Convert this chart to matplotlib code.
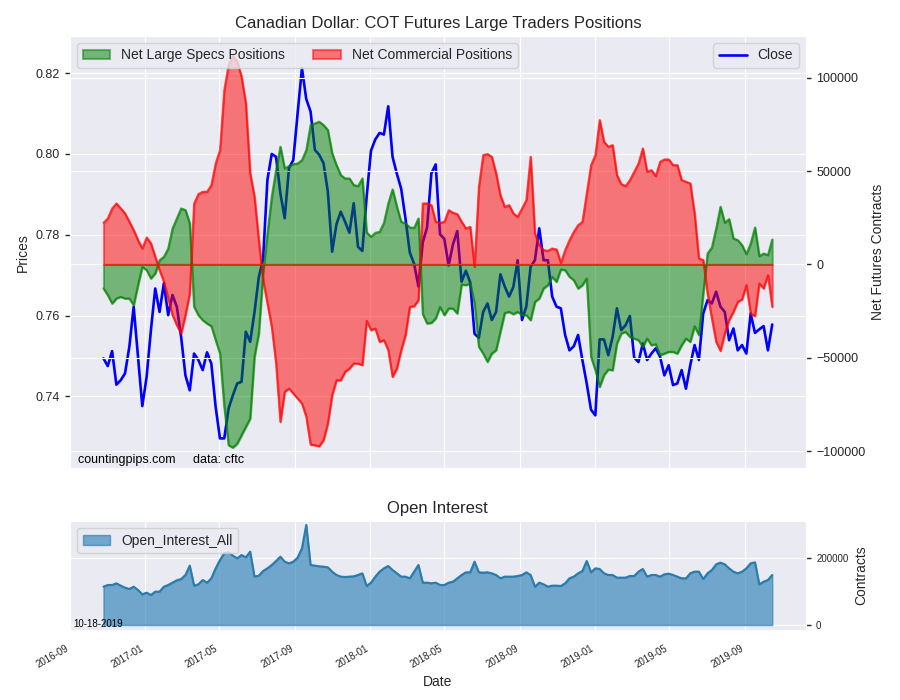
import numpy as np
import pandas as pd
import matplotlib
matplotlib.use("agg")
import matplotlib.pyplot as plt
import matplotlib.dates as mdates
import seaborn as sns

# weekly COT report dates (Tuesdays)
dates = pd.date_range("2016-10-25", periods=156, freq="7D")

close = [
  0.7494, 0.7475, 0.7512, 0.7429, 0.7440, 0.7457, 0.7523, 0.7622, 0.7498, 0.7376,
  0.7448, 0.7564, 0.7667, 0.7609, 0.7680, 0.7601, 0.7651, 0.7622, 0.7547, 0.7452,
  0.7415, 0.7506, 0.7490, 0.7465, 0.7509, 0.7481, 0.7374, 0.7296, 0.7296, 0.7370,
  0.7403, 0.7432, 0.7436, 0.7560, 0.7535, 0.7608, 0.7695, 0.7740, 0.7936, 0.8000,
  0.7993, 0.7903, 0.7841, 0.7965, 0.7985, 0.8101, 0.8212, 0.8136, 0.8105, 0.8010,
  0.7998, 0.7977, 0.7907, 0.7758, 0.7826, 0.7857, 0.7832, 0.7805, 0.7878, 0.7770,
  0.7760, 0.7894, 0.8008, 0.8036, 0.8052, 0.8048, 0.8118, 0.7993, 0.7951, 0.7914,
  0.7840, 0.7756, 0.7728, 0.7672, 0.7781, 0.7818, 0.7952, 0.7974, 0.7801, 0.7790,
  0.7724, 0.7776, 0.7809, 0.7684, 0.7711, 0.7682, 0.7555, 0.7545, 0.7609, 0.7630,
  0.7589, 0.7609, 0.7702, 0.7672, 0.7647, 0.7671, 0.7737, 0.7589, 0.7622, 0.7721,
  0.7737, 0.7816, 0.7737, 0.7737, 0.7647, 0.7622, 0.7618, 0.7552, 0.7514, 0.7524,
  0.7552, 0.7490, 0.7432, 0.7367, 0.7353, 0.7541, 0.7541, 0.7502, 0.7547, 0.7618,
  0.7564, 0.7576, 0.7599, 0.7496, 0.7485, 0.7531, 0.7490, 0.7506, 0.7519, 0.7498,
  0.7452, 0.7477, 0.7428, 0.7432, 0.7465, 0.7419, 0.7477, 0.7527, 0.7490, 0.7605,
  0.7638, 0.7630, 0.7659, 0.7622, 0.7609, 0.7539, 0.7568, 0.7514, 0.7527, 0.7506,
  0.7605, 0.7557, 0.7566, 0.7574, 0.7514, 0.7578]

large_specs = [
  -12866, -16440, -20908, -18227, -17334, -18227, -18227, -21801, -11079, -1251,
  -3038, -7505, -4825, 2323, 4110, 8578, 19300, 24661, 30022, 29128,
  21980, -22694, -27162, -29843, -31630, -33060, -40565, -47713, -76305, -96855,
  -98106, -95962, -91494, -87027, -82559, -49500, -36991, -4825, 16619, 36276,
  50572, 63081, 51466, 52717, 53789, 54146, 55933, 61294, 74697, 75590,
  76484, 74697, 72016, 59507, 53253, 47892, 46105, 46105, 42531, 41995,
  46105, 17200, 14832, 16977, 17513, 22338, 32702, 40208, 30915, 22874,
  21980, 19836, 19657, 24661, -26625, -31630, -31272, -28949, -22694, -27162,
  -23588, -23588, -26269, -10722, -11079, -10186, -20908, -44138, -47713, -52180,
  -47713, -45926, -36000, -26000, -25375, -26626, -25375, -27162, -27162, -29843,
  -20014, -18227, -12866, -11079, -6612, -9292, -2681, -3038, -6612, -8399,
  -12866, -11079, -7505, -49500, -56648, -65583, -59329, -56291, -56648, -42352,
  -36991, -36097, -38778, -39671, -40565, -44138, -39671, -43245, -42709, -48607,
  -47713, -46820, -46820, -47713, -43245, -39671, -41458, -33060, -37885, -15547,
  5897, 9114, 19300, 30915, 22338, 24303, 13939, 13045, 10365, 5540,
  11258, 19836, 4468, 5897, 5004, 13403]

commercials = [
  22338, 24661, 30022, 32702, 30022, 27341, 22874, 18406, 13045, 8578,
  14475, 11258, 4110, -3038, -9292, -18227, -27162, -32523, -36991, -27162,
  -15547, 32702, 37706, 38957, 38957, 42531, 54146, 61294, 93460, 106863,
  111687, 108649, 100607, 86311, 48786, 36276, 13045, -8399, -20908, -33417,
  -53074, -84346, -68263, -66476, -69157, -71837, -74518, -81666, -96498, -96855,
  -97391, -94175, -85239, -70050, -62008, -62008, -57541, -55754, -53074, -53074,
  -53967, -30200, -35204, -34310, -41458, -40565, -45926, -60222, -55754, -45926,
  -37885, -22694, -22338, -19121, 32702, 32702, 31808, 22874, 22338, 22874,
  29128, 27698, 26983, 22874, 19300, 20193, -1251, 41637, 58614, 59150,
  57720, 48786, 37000, 30800, 31808, 27341, 25554, 30022, 34489, 57720,
  16619, 10365, 7684, 7327, 8578, 8042, 894, 7684, 13045, 17513,
  21087, 22874, 38063, 53253, 58614, 77377, 65762, 63081, 63975, 47892,
  43067, 41995, 45211, 49679, 54146, 62188, 49679, 50572, 47356, 55039,
  56291, 56291, 53253, 53253, 45211, 44318, 43424, 27341, 3217, 2323,
  -15547, -28949, -41458, -46283, -36991, -29843, -25375, -20014, -18763, -11079,
  -26269, -27698, -10186, -12866, -5718, -22694]

open_interest = [
  115000, 120000, 120000, 125000, 118000, 112000, 108000, 115000, 105000, 92000,
  97000, 90000, 100000, 100000, 115000, 120000, 127000, 134000, 138000, 150000,
  178000, 118000, 122000, 135000, 127000, 140000, 170000, 195000, 215000, 218000,
  208000, 200000, 210000, 203000, 220000, 145000, 148000, 162000, 170000, 180000,
  192000, 205000, 190000, 185000, 190000, 202000, 230000, 300000, 180000, 178000,
  176000, 175000, 173000, 160000, 150000, 145000, 144000, 145000, 146000, 150000,
  155000, 117000, 127000, 145000, 160000, 170000, 177000, 165000, 155000, 145000,
  145000, 140000, 160000, 180000, 127000, 127000, 125000, 127000, 120000, 120000,
  127000, 130000, 140000, 150000, 158000, 158000, 190000, 158000, 157000, 158000,
  155000, 150000, 140000, 145000, 145000, 145000, 147000, 150000, 158000, 150000,
  115000, 127000, 122000, 115000, 118000, 118000, 117000, 125000, 140000, 145000,
  155000, 162000, 192000, 158000, 170000, 168000, 155000, 150000, 150000, 142000,
  142000, 142000, 147000, 147000, 160000, 168000, 145000, 150000, 150000, 145000,
  152000, 154000, 150000, 145000, 140000, 140000, 155000, 160000, 160000, 138000,
  155000, 165000, 182000, 187000, 182000, 170000, 160000, 155000, 160000, 170000,
  185000, 188000, 122000, 130000, 135000, 150000]

sns.set_style("darkgrid")
plt.rcParams['font.family'] = ['Liberation Sans', 'DejaVu Sans']
plt.rcParams['text.color'] = '.15'
plt.rcParams['axes.labelcolor'] = '.15'

fig = plt.figure(figsize=(9, 7), dpi=100)

# ---- top panel: price + net positions
ax = fig.add_axes([0.0778, 0.331, 0.8174, 0.6176])
ax.plot(dates, close, color='blue', lw=1.9, label='Close')
ax.set_ylim(0.7222, 0.8292)
ax.set_yticks(np.arange(0.74, 0.821, 0.02))
ax.set_ylabel('Prices', fontsize=10)
ax.tick_params(axis='y', left=True, length=3.5, width=1, color='.15', labelsize=9, pad=4)
ax.tick_params(axis='x', bottom=False, labelbottom=False)
ax.legend(loc='upper right', frameon=True, fontsize=10)

ax2 = ax.twinx()
ax2.fill_between(dates, large_specs, 0, color='green', alpha=0.5, lw=1.5,
                 label='Net Large Specs Positions')
ax2.fill_between(dates, commercials, 0, color='red', alpha=0.5, lw=1.5,
                 label='Net Commercial Positions')
# stronger outline on the position curves
ax2.plot(dates, large_specs, color='green', alpha=0.6, lw=1.5)
ax2.plot(dates, commercials, color='red', alpha=0.6, lw=1.5)
ax2.set_ylim(-109223, 122413)
ax2.set_yticks([-100000, -50000, 0, 50000, 100000])
ax2.set_ylabel('Net Futures Contracts', fontsize=10)
ax2.tick_params(axis='y', right=True, length=3.5, width=1, color='.15', labelsize=9, pad=4)
ax2.legend(loc='upper left', ncol=2, frameon=True, fontsize=10)
ax2.set_title('Canadian Dollar: COT Futures Large Traders Positions', fontsize=12)
ax2.text(0.011, 0.012, 'countingpips.com     data: cftc', transform=ax2.transAxes,
         fontsize=9, color='black')

# ---- bottom panel: open interest
ax3 = fig.add_axes([0.0778, 0.1, 0.8174, 0.1557], sharex=ax)
ax3.fill_between(dates, open_interest, 0, color='#1f77b4', alpha=0.6,
                 label='Open_Interest_All')
ax3.plot(dates, open_interest, color='#2b7bab', lw=1.5)
ax3.set_ylim(-15000, 311900)
ax3.set_yticks([0, 200000])
ax3.yaxis.tick_right()
ax3.yaxis.set_label_position('right')
ax3.set_ylabel('Contracts', fontsize=10)
ax3.tick_params(axis='y', right=True, length=3.5, width=1, color='.15', labelsize=7, pad=4)
ax3.set_title('Open Interest', fontsize=12)
ax3.set_xlabel('Date', fontsize=10)
ax3.legend(loc='upper left', frameon=True, fontsize=10)
ax3.text(0.005, 0.03, '10-18-2019', transform=ax3.transAxes, fontsize=7, color='black')

ax3.xaxis.set_major_locator(mdates.MonthLocator(bymonth=[1, 5, 9]))
ax3.xaxis.set_major_formatter(mdates.DateFormatter('%Y-%m'))
ax3.tick_params(axis='x', bottom=False, labelsize=7, pad=6)
plt.setp(ax3.get_xticklabels(), rotation=30, ha='right')

fig.savefig('out.png', dpi=100)
